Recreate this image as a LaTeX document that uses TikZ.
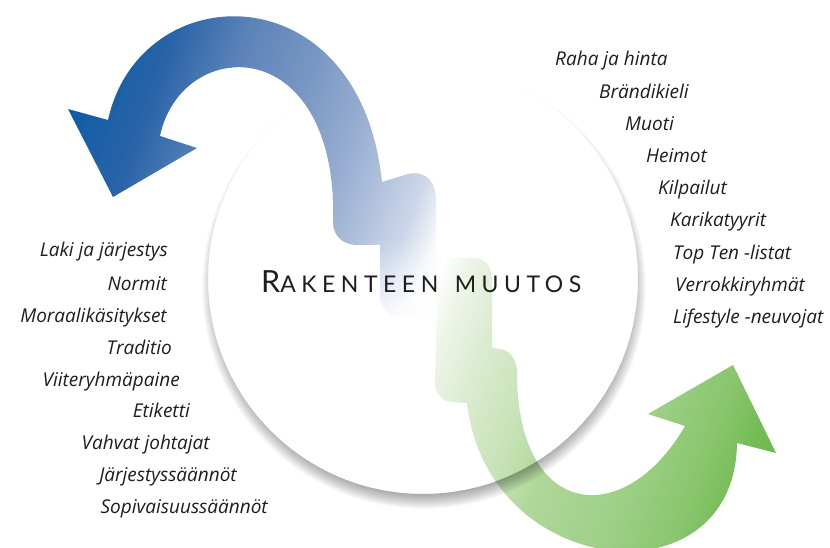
\documentclass[tikz,border=0pt]{standalone}
\usepackage{fontspec}
\usetikzlibrary{fadings}
\setmainfont{Open Sans}
\newfontfamily\listfont{Open Sans}
\newfontfamily\titlefont[LetterSpace=24]{Lato}
\definecolor{txt}{HTML}{1E1E1E}
\definecolor{s00}{HTML}{0A5CA6}
\definecolor{s01}{HTML}{2A63A8}
\definecolor{s02}{HTML}{5A82B8}
\definecolor{s03}{HTML}{7B98C4}
\definecolor{s04}{HTML}{98AED2}
\definecolor{s05}{HTML}{B2C2DD}
\definecolor{s06}{HTML}{CDD7EA}
\definecolor{s07}{HTML}{F6F8FB}
\definecolor{s08}{HTML}{FFFFFF}
\definecolor{s09}{HTML}{EEF5E8}
\definecolor{s10}{HTML}{DCECD2}
\definecolor{s11}{HTML}{C6E2B5}
\definecolor{s12}{HTML}{B0D79A}
\definecolor{s13}{HTML}{9CCF85}
\definecolor{s14}{HTML}{88C56C}
\definecolor{s15}{HTML}{75BB55}
\definecolor{s16}{HTML}{6CB84A}
\definecolor{s17}{HTML}{62B240}
\tikzfading[name=fadedown, top color=transparent!100, bottom color=transparent!0]
\newcommand{\bluepath}{(108,120) .. controls (140,-25) and (360,-30) .. (382,182)
  -- (408,174) .. controls (426,170) and (436,182) .. (436,200)
  -- (436,316) -- (402,317) .. controls (390,317) and (380,307) .. (380,295)
  -- (380,245) -- (357,245) .. controls (343,245) and (333,236) .. (333,222)
  -- (333,200) .. controls (325,30) and (180,40) .. (160,136)
  -- (197,148) -- (113,197) -- (68,109) -- cycle}
\newcommand{\greenpath}{(425,258) -- (474,258) .. controls (485,258) and (492,267) .. (492,280)
  -- (492,348) -- (500,349) .. controls (510,350) and (517,360) .. (517,373)
  .. controls (517,520) and (625,530) .. (685,426)
  -- (648,414) -- (733,365) -- (776,453) -- (737,443)
  .. controls (735,605) and (487,580) .. (467,403)
  -- (453,402) .. controls (443,402) and (435,394) .. (435,383)
  -- (437,300) -- (425,290) -- cycle}
\newcommand{\gradfill}{%
  \begin{scope}[transform canvas={shift={(60,100)},rotate=-20}]
    \foreach \sa/\sb/\ca/\cb in {-200/0/s00/s00, 0/85/s00/s01, 85/150/s01/s02,
      150/230/s02/s03, 230/290/s03/s04, 290/330/s04/s05, 330/370/s05/s06,
      370/400/s06/s07, 400/415/s07/s08, 415/440/s08/s09, 440/480/s09/s10,
      480/540/s10/s11, 540/580/s11/s12, 580/670/s12/s13, 670/730/s13/s14,
      730/770/s14/s15, 770/800/s15/s16, 800/1000/s16/s17}
      {\shade[left color=\ca, right color=\cb] (\sa-0.6,-800) rectangle (\sb+0.6,800);}
  \end{scope}}
\tikzset{
  listtext/.style={inner sep=0pt, font=\listfont\itshape\fontsize{19}{21}\selectfont, text=txt},
  lefttext/.style={listtext, anchor=base east},
  righttext/.style={listtext, anchor=base west}
}
\begin{document}
\begin{tikzpicture}[x=1pt,y=-1pt]
\useasboundingbox (0,0) rectangle (830,548);
\fill[white] (0,0) rectangle (830,548);
% arrows
\begin{scope}
  \clip \bluepath;
  \gradfill
  \fill[white, fill opacity=0.85, path fading=fadedown] (370,238) rectangle (440,320);
\end{scope}
\begin{scope}
  \clip \greenpath;
  \gradfill
\end{scope}
% soft shadow outside the circle
\begin{scope}[even odd rule]
  \clip (0,0) -- (830,0) -- (830,548) -- (0,548) -- cycle (423,279) circle (215);
  \foreach \k in {0,...,16} {\fill[black,opacity=0.025] (424,287) circle ({222-\k});}
\end{scope}
% title
\node[anchor=base west, inner sep=0pt, text=txt, font=\titlefont] (title) at (261,292)
  {{\fontsize{30.5}{30}\selectfont R}{\fontsize{23}{23}\selectfont AKENTEEN\hspace{5pt} MUUTOS}};
% left list
\node[lefttext] (l1) at (168,257) {Laki ja järjestys};
\node[lefttext] (l2) at (167,290) {Normit};
\node[lefttext] (l3) at (167,322) {Moraalikäsitykset};
\node[lefttext] (l4) at (172,354) {Traditio};
\node[lefttext] (l5) at (180,386) {Viiteryhmäpaine};
\node[lefttext] (l6) at (190,417) {Etiketti};
\node[lefttext] (l7) at (210,449) {Vahvat johtajat};
\node[lefttext] (l8) at (237,481) {Järjestyssäännöt};
\node[lefttext] (l9) at (268,513) {Sopivaisuussäännöt};
% right list
\node[righttext] (r1) at (555,66) {Raha ja hinta};
\node[righttext] (r2) at (599,99) {Brändikieli};
\node[righttext] (r3) at (625,131) {Muoti};
\node[righttext] (r4) at (646,163) {Heimot};
\node[righttext] (r5) at (658,195) {Kilpailut};
\node[righttext] (r6) at (670,227) {Karikatyyrit};
\node[righttext] (r7) at (673,259) {Top Ten -listat};
\node[righttext] (r8) at (675,291) {Verrokkiryhmät};
\node[righttext] (r9) at (673,323) {Lifestyle -neuvojat};
\end{tikzpicture}
\end{document}
